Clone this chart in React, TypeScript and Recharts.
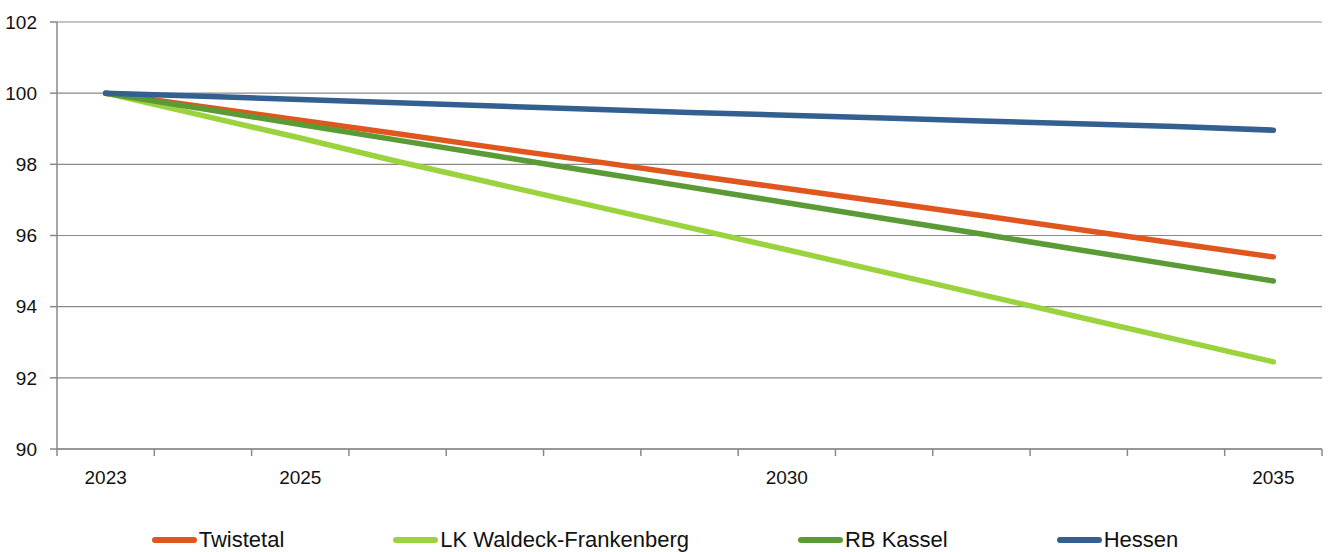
import { CartesianGrid, Line, LineChart, XAxis, YAxis } from "recharts";

const years = [2023, 2024, 2025, 2026, 2027, 2028, 2029, 2030, 2031, 2032, 2033, 2034, 2035];

const twistetal = [100, 99.62, 99.24, 98.86, 98.47, 98.09, 97.7, 97.32, 96.94, 96.56, 96.17, 95.78, 95.4];
const waldeck = [100, 99.37, 98.74, 98.08, 97.46, 96.84, 96.22, 95.6, 94.97, 94.34, 93.71, 93.08, 92.45];
const kassel = [100, 99.56, 99.12, 98.68, 98.24, 97.8, 97.36, 96.92, 96.48, 96.04, 95.6, 95.16, 94.72];
const hessen = [100, 99.91, 99.82, 99.73, 99.64, 99.55, 99.46, 99.38, 99.3, 99.22, 99.14, 99.06, 98.96];

const yTicks = [90, 92, 94, 96, 98, 100, 102];
const labelYears = [2023, 2025, 2030, 2035];

const series = [
  { key: "twistetal", name: "Twistetal", color: "#E0561F" },
  { key: "waldeck", name: "LK Waldeck-Frankenberg", color: "#9BD33E" },
  { key: "kassel", name: "RB Kassel", color: "#5B9B35" },
  { key: "hessen", name: "Hessen", color: "#335F91" },
];

const data = years.map((year, i) => ({
  year,
  twistetal: twistetal[i],
  waldeck: waldeck[i],
  kassel: kassel[i],
  hessen: hessen[i],
}));

// tick marks sit between the years, labels only on a few years
const boundaryTicks = [...years.map((y) => y - 0.5), years[years.length - 1] + 0.5];
const xTicks = [...boundaryTicks, ...labelYears].sort((a, b) => a - b);

const FONT = "'Liberation Sans', Arial, sans-serif";
const AXIS = "#898989";

function XTick({ x, y, payload }: any) {
  const v = payload.value as number;
  if (!Number.isInteger(v)) {
    return <line x1={x} x2={x} y1={y - 7} y2={y} stroke={AXIS} strokeWidth={1.5} />;
  }
  return (
    <text x={x} y={y + 28} textAnchor="middle" fontSize={19} fontFamily={FONT} fill="#111">
      {v}
    </text>
  );
}

export default function App() {
  return (
    <div style={{ position: "absolute", left: 0, top: 0, width: 1330, height: 552, overflow: "hidden", background: "#fff" }}>
      <LineChart width={1330} height={552} data={data} margin={{ top: 22, right: 8, bottom: 63, left: 0 }}>
        <CartesianGrid vertical={false} stroke={AXIS} strokeWidth={1.2} />
        <XAxis
          dataKey="year"
          type="number"
          domain={[2022.5, 2035.5]}
          ticks={xTicks}
          interval={0}
          tick={<XTick />}
          tickLine={false}
          tickSize={7}
          tickMargin={0}
          height={40}
          stroke={AXIS}
          strokeWidth={1.5}
        />
        <YAxis
          domain={[90, 102]}
          ticks={yTicks}
          width={57}
          tickSize={7}
          tickMargin={13}
          stroke={AXIS}
          strokeWidth={1.5}
          tick={{ fontSize: 19, fontFamily: FONT, fill: "#111" }}
        />
        {series.map((s) => (
          <Line
            key={s.key}
            dataKey={s.key}
            name={s.name}
            type="linear"
            stroke={s.color}
            strokeWidth={5.5}
            strokeLinecap="round"
            dot={false}
            isAnimationActive={false}
          />
        ))}
      </LineChart>
      <div
        style={{
          position: "absolute",
          top: 529,
          left: 0,
          width: 1330,
          display: "flex",
          justifyContent: "center",
          gap: 109,
          fontFamily: FONT,
          fontSize: 22,
          lineHeight: "22px",
          color: "#111",
        }}
      >
        {series.map((s) => (
          <div key={s.key} style={{ display: "flex", alignItems: "center" }}>
            <span style={{ width: 45, height: 6, borderRadius: 3, background: s.color, marginRight: 2 }} />
            <span>{s.name}</span>
          </div>
        ))}
      </div>
    </div>
  );
}
